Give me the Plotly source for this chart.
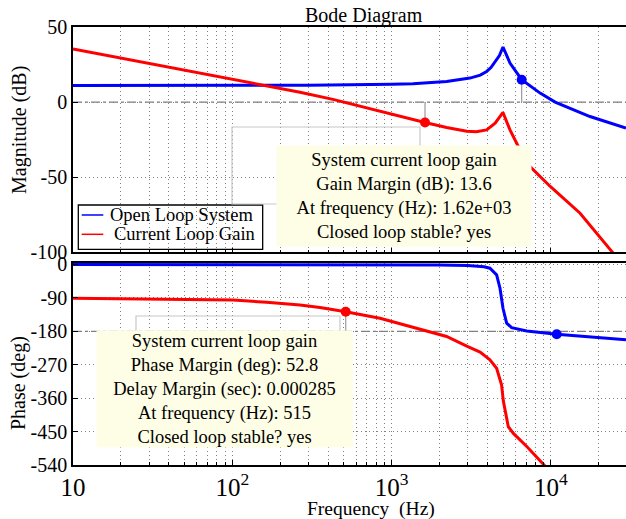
import plotly.graph_objects as go

# ---- Open loop system: magnitude (dB) and phase (deg) ----
ol_mag_freq = [10, 100, 300, 1000, 1360, 2213, 3100, 3600, 3947, 4200, 4462, 4750, 5000, 5530, 6550,
               8550, 10620, 17580, 29560]
ol_mag_db = [11.0, 11.0, 11.3, 11.9, 12.2, 13.7, 16.0, 18.0, 20.4, 23.0, 27.0, 31.0, 36.7, 26.0, 14.9,
             6.0, 0.0, -9.6, -17.3]

ol_ph_freq = [10, 1000, 2000, 3000, 3800, 4140, 4560, 4787, 5000, 5270, 5665, 7050, 8530, 10870, 29560]
ol_ph_deg = [0, -0.5, -1.5, -3, -6, -10, -28, -64, -118, -158, -170, -179, -183.6, -188, -203]

# ---- Current loop gain: magnitude (dB) and phase (deg) ----
cl_mag_freq = [10, 30, 100, 266, 428, 698, 845, 1130, 1620, 2213, 2960, 3400, 3947, 4462, 5000, 5530,
               6240, 7050, 9860, 15230, 24660, 29560]
cl_mag_db = [35.3, 25.8, 15.3, 6.6, 1.8, -4.0, -5.8, -9.6, -13.6, -16.9, -19.4, -19.8, -18.5, -14.0, -6.9,
             -18.5, -29.6, -40.7, -56.0, -74.0, -100.7, -107.0]

cl_ph_freq = [10, 101, 164, 266, 355, 515, 845, 1366, 1670, 2213, 2960, 3420, 3590, 4140, 4560, 4900,
              5025, 5400, 5810, 7050, 8930, 10000]
cl_ph_deg = [-91, -95.6, -102, -109, -116, -127.2, -145, -169, -180, -194, -220, -231, -236, -257, -279.5,
             -324.5, -368, -437, -455, -490, -540, -560]

# ---- Margin markers (frequency Hz, value) ----
gm_freq, gm_db = 1620, -13.6          # gain margin point on current loop gain
ol_mag_tip_freq, ol_mag_tip_db = 6550, 14.9
pm_freq, pm_deg = 515, -127.2         # phase margin point on current loop gain
ol_ph_tip_freq, ol_ph_tip_deg = 10870, -188

mag_ticks = [-100, -50, 0, 50]
phase_ticks = [-540, -450, -360, -270, -180, -90, 0]

series_names = ["Open Loop System", "Current Loop Gain"]

gm_text = ["System current loop gain", "Gain Margin (dB): 13.6",
           "At frequency (Hz): 1.62e+03", "Closed loop stable? yes"]
pm_text = ["System current loop gain", "Phase Margin (deg): 52.8",
           "Delay Margin (sec): 0.000285", "At frequency (Hz): 515", "Closed loop stable? yes"]

BLUE = "#0000ff"
RED = "#ff0000"
STEM = "#9a9a9a"
FONT = "Liberation Serif, DejaVu Serif, serif"

fig = go.Figure()

# magnitude panel
fig.add_trace(go.Scatter(x=ol_mag_freq, y=ol_mag_db, mode="lines", name=series_names[0],
                         line=dict(color=BLUE, width=3), xaxis="x", yaxis="y"))
fig.add_trace(go.Scatter(x=cl_mag_freq, y=cl_mag_db, mode="lines", name=series_names[1],
                         line=dict(color=RED, width=3), xaxis="x", yaxis="y"))
# stems from the margin points to the 0 dB line
fig.add_trace(go.Scatter(x=[gm_freq, gm_freq], y=[gm_db, 0], mode="lines",
                         line=dict(color=STEM, width=1.2), xaxis="x", yaxis="y"))
fig.add_trace(go.Scatter(x=[ol_mag_tip_freq, ol_mag_tip_freq], y=[ol_mag_tip_db, 0], mode="lines",
                         line=dict(color=STEM, width=1.2), xaxis="x", yaxis="y"))
fig.add_trace(go.Scatter(x=[gm_freq], y=[gm_db], mode="markers",
                         marker=dict(color=RED, size=10), xaxis="x", yaxis="y"))
fig.add_trace(go.Scatter(x=[ol_mag_tip_freq], y=[ol_mag_tip_db], mode="markers",
                         marker=dict(color=BLUE, size=10), xaxis="x", yaxis="y"))

# phase panel
fig.add_trace(go.Scatter(x=ol_ph_freq, y=ol_ph_deg, mode="lines",
                         line=dict(color=BLUE, width=3), xaxis="x2", yaxis="y2"))
fig.add_trace(go.Scatter(x=cl_ph_freq, y=cl_ph_deg, mode="lines",
                         line=dict(color=RED, width=3), xaxis="x2", yaxis="y2"))
fig.add_trace(go.Scatter(x=[pm_freq, pm_freq], y=[pm_deg, -180], mode="lines",
                         line=dict(color=STEM, width=1.2), xaxis="x2", yaxis="y2"))
fig.add_trace(go.Scatter(x=[pm_freq], y=[pm_deg], mode="markers",
                         marker=dict(color=RED, size=10), xaxis="x2", yaxis="y2"))
fig.add_trace(go.Scatter(x=[ol_ph_tip_freq], y=[ol_ph_tip_deg], mode="markers",
                         marker=dict(color=BLUE, size=10), xaxis="x2", yaxis="y2"))

GRID_COLOR = "#808080"
GRID_DASH = "1px,3px"
grid = dict(showgrid=True, gridcolor=GRID_COLOR, griddash=GRID_DASH, gridwidth=1)
xcommon = dict(type="log", range=[1, 4.471], dtick=1, exponentformat="power", showexponent="all",
               showline=True, linecolor="black", linewidth=1.5, mirror=True,
               ticks="inside", ticklen=5, tickcolor="black",
               minor=dict(dtick="D1", showgrid=True, gridcolor=GRID_COLOR, griddash=GRID_DASH,
                          ticks="inside", ticklen=3, tickcolor="black"),
               zeroline=False, tickfont=dict(family=FONT, size=20, color="black"), **grid)
ycommon = dict(showline=True, linecolor="black", linewidth=1.5, ticks="inside", ticklen=5,
               tickcolor="black", zeroline=False,
               tickfont=dict(family=FONT, size=20, color="black"), **grid)

fig.update_layout(
    width=626, height=519,
    margin=dict(l=73, r=0, t=27, b=54),
    paper_bgcolor="white", plot_bgcolor="white",
    font=dict(family=FONT, color="black"),
    xaxis=dict(domain=[0, 1], anchor="y", showticklabels=False, **xcommon),
    xaxis2=dict(domain=[0, 1], anchor="y2", matches="x", showticklabels=True, **xcommon),
    yaxis=dict(domain=[0.4856, 1], range=[-100, 50], tickvals=mag_ticks,
               ticktext=[str(v) for v in mag_ticks], **ycommon),
    yaxis2=dict(domain=[0, 0.4612], range=[-540, 4], tickvals=phase_ticks,
                ticktext=[str(v) for v in phase_ticks], **ycommon),
    showlegend=False,
)

# 0 dB and -180 deg reference lines
fig.add_shape(type="line", xref="x domain", x0=0, x1=1, yref="y", y0=0, y1=0,
              line=dict(color="#808080", width=1.2, dash="dashdot"), layer="below")
fig.add_shape(type="line", xref="x2 domain", x0=0, x1=1, yref="y2", y0=-180, y1=-180,
              line=dict(color="#808080", width=1.2, dash="dashdot"), layer="below")

# legend box (grid stays visible through it)
fig.add_shape(type="rect", xref="paper", yref="paper", x0=0.0096, x1=0.343, y0=0.4925, y1=0.5936,
              line=dict(color="black", width=1.3), fillcolor="white", layer="below")
for y_leg, color, name, x_txt in [(0.5708, BLUE, series_names[0], 0.0627),
                                  (0.5267, RED, series_names[1], 0.0700)]:
    fig.add_shape(type="line", xref="paper", yref="paper", x0=0.0157, x1=0.0548, y0=y_leg, y1=y_leg,
                  line=dict(color=color, width=1.5), layer="above")
    fig.add_annotation(xref="paper", yref="paper", x=x_txt, y=y_leg, xanchor="left", yanchor="middle",
                       text=name, showarrow=False, font=dict(family=FONT, size=18.5, color="black"))

# data-tip outlines
fig.add_shape(type="rect", xref="paper", yref="paper", x0=0.2875, x1=0.6275, y0=0.5959, y1=0.7717,
              line=dict(color="#c8c8c8", width=1.2), fillcolor="rgba(0,0,0,0)", layer="above")
fig.add_shape(type="rect", xref="paper", yref="paper", x0=0.1139, x1=0.4828, y0=0.2854, y1=0.3402,
              line=dict(color="#c8c8c8", width=1.2), fillcolor="rgba(0,0,0,0)", layer="above")

TIP_BG = "#fefee6"
fig.add_annotation(xref="paper", yref="paper", x=0.5986, y=0.6142, xanchor="center", yanchor="middle",
                   text="<br>".join(gm_text), showarrow=False, align="center", valign="middle",
                   width=254, height=100, bgcolor=TIP_BG, borderpad=0,
                   font=dict(family=FONT, size=18.5, color="black"))
fig.add_annotation(xref="paper", yref="paper", x=0.274, y=0.1735, xanchor="center", yanchor="middle",
                   text="<br>".join(pm_text), showarrow=False, align="center", valign="middle",
                   width=255, height=116, bgcolor=TIP_BG, borderpad=0,
                   font=dict(family=FONT, size=18.5, color="black"))

# titles
fig.add_annotation(xref="paper", yref="paper", x=0.526, y=1.027, xanchor="center", yanchor="middle",
                   text="Bode Diagram", showarrow=False, font=dict(family=FONT, size=20, color="black"))
fig.add_annotation(xref="paper", yref="paper", x=-0.0958, y=0.765, xanchor="center", yanchor="middle",
                   text="Magnitude (dB)", textangle=-90, showarrow=False,
                   font=dict(family=FONT, size=20, color="black"))
fig.add_annotation(xref="paper", yref="paper", x=-0.0995, y=0.187, xanchor="center", yanchor="middle",
                   text="Phase (deg)", textangle=-90, showarrow=False,
                   font=dict(family=FONT, size=20, color="black"))
fig.add_annotation(xref="paper", yref="paper", x=0.539, y=-0.101, xanchor="center", yanchor="middle",
                   text="Frequency  (Hz)", showarrow=False, font=dict(family=FONT, size=19.5, color="black"))

fig.write_html("out.html")
